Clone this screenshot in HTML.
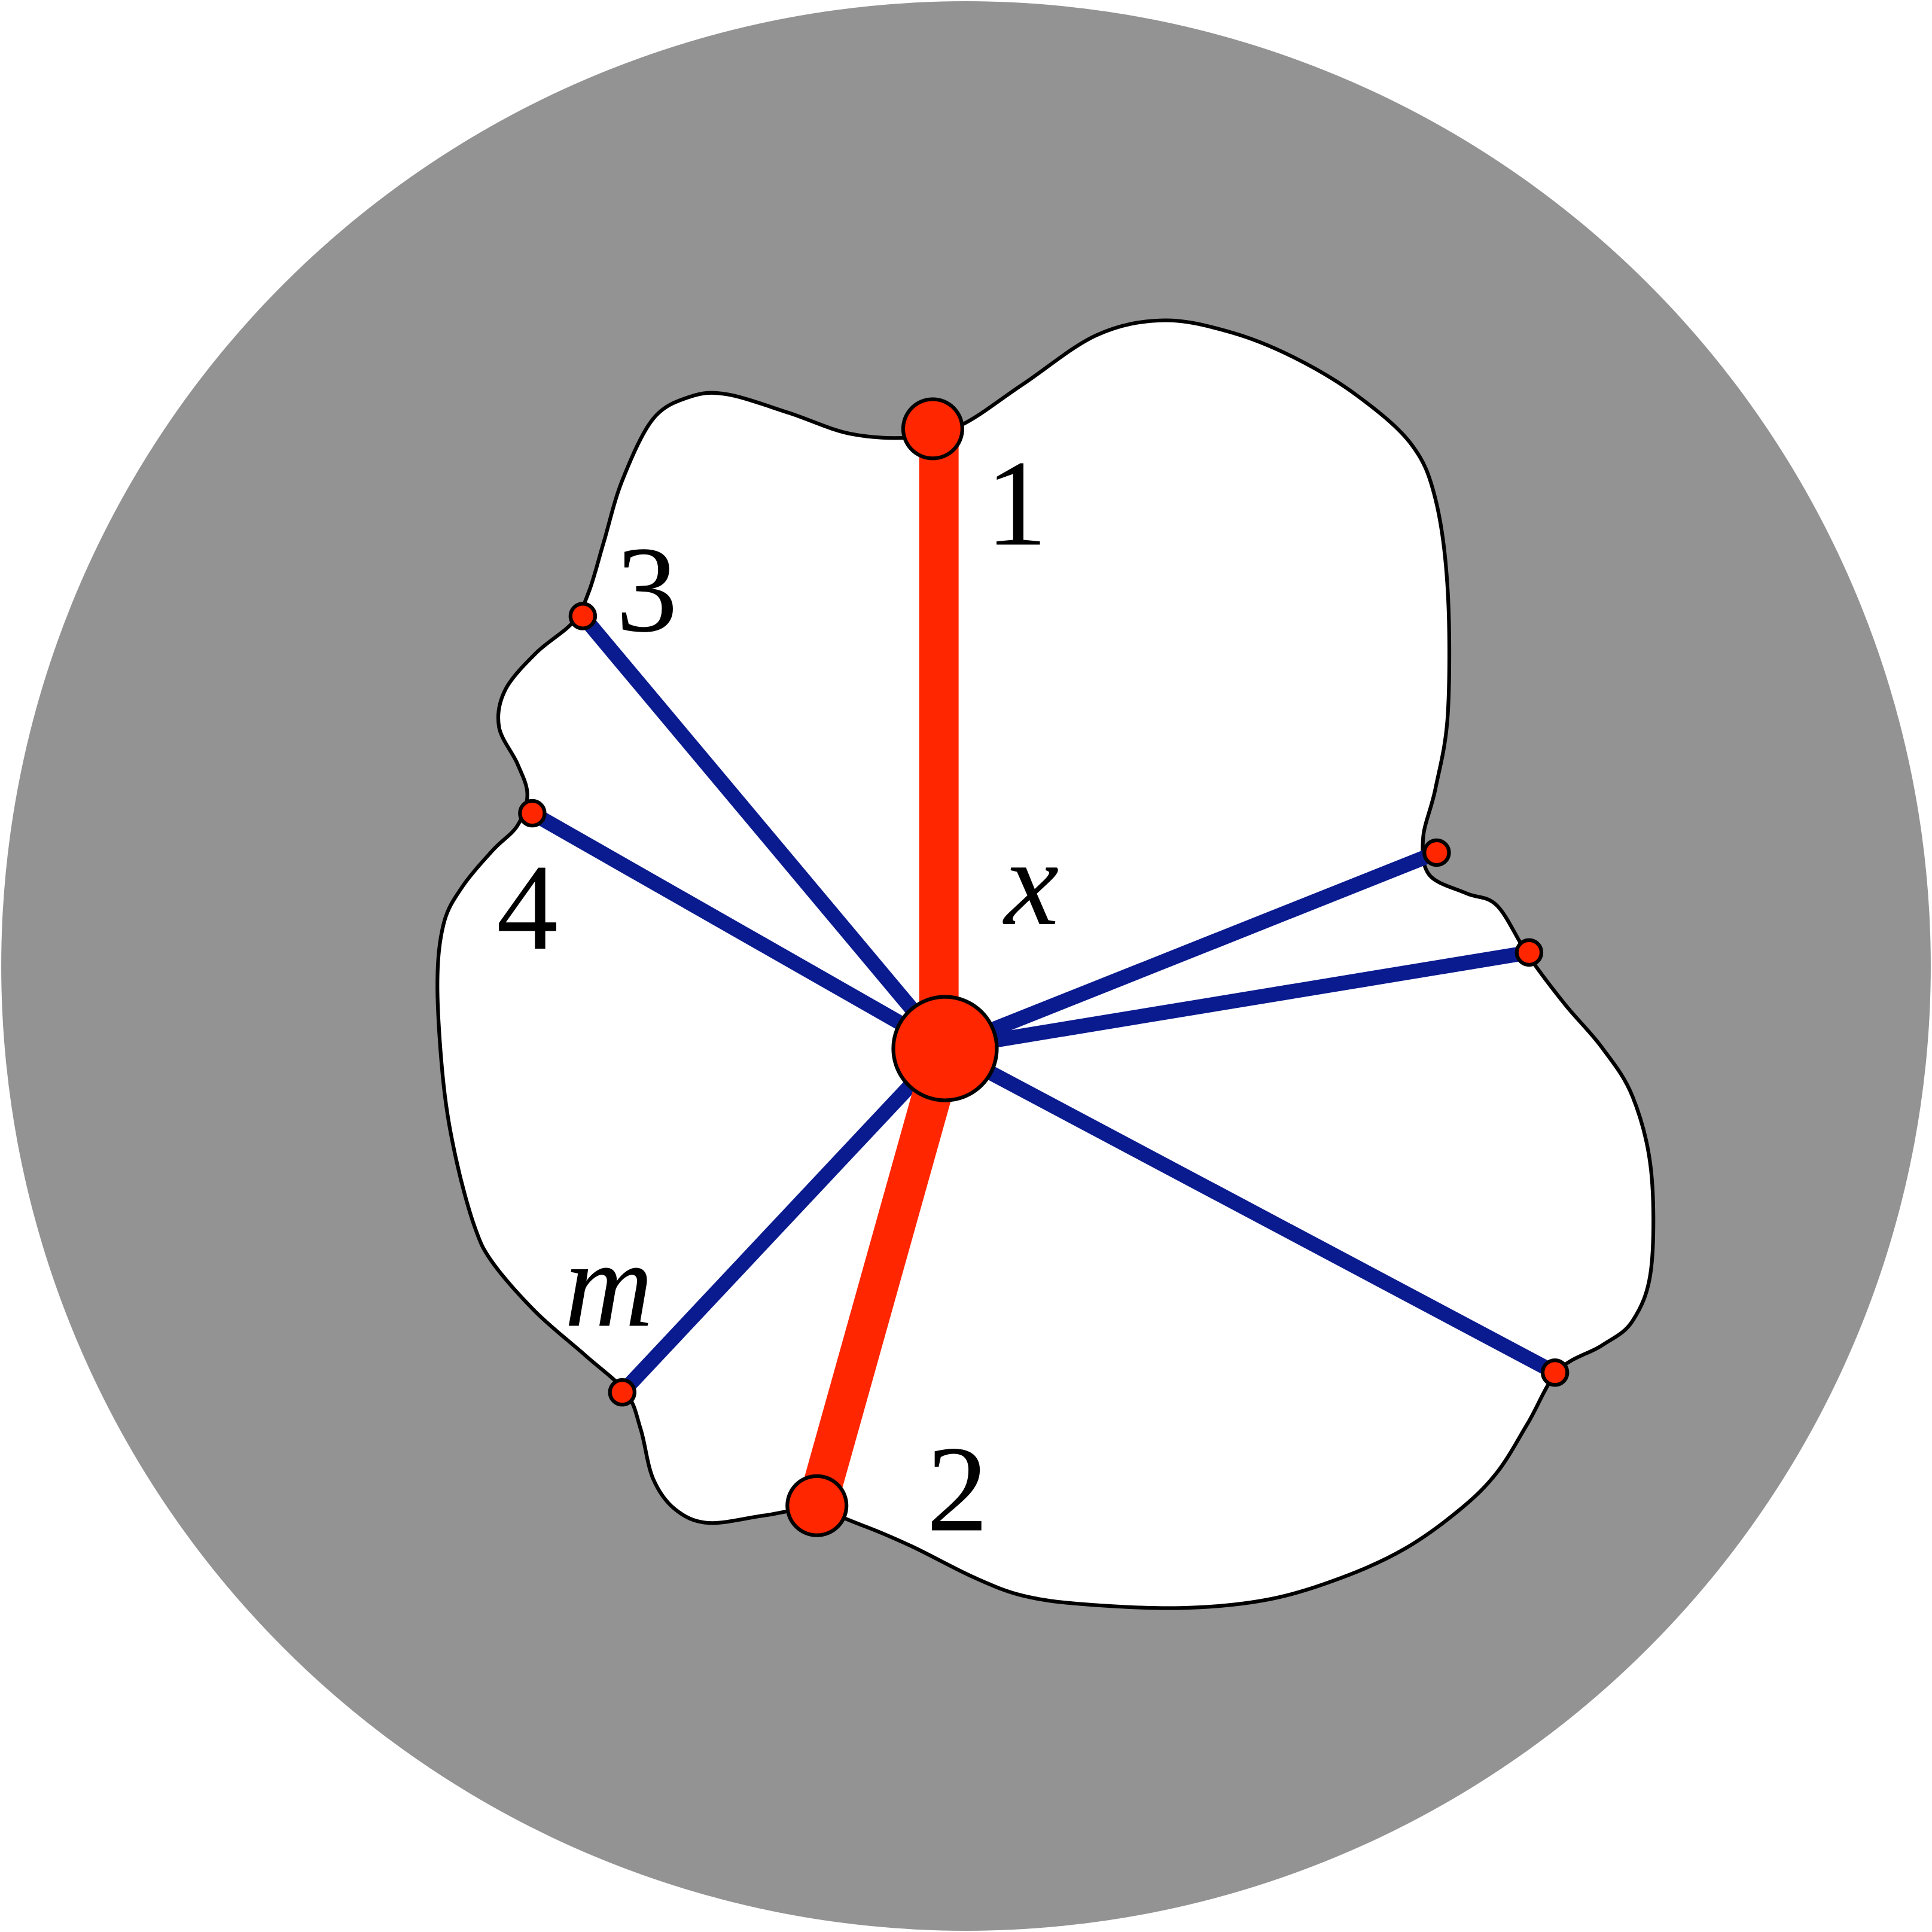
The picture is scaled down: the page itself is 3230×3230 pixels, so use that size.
<!DOCTYPE html>
<html>
<head>
<meta charset="utf-8">
<style>
html,body{margin:0;padding:0;background:#fff;}
svg{display:block;}
text{font-family:"Liberation Serif","Times New Roman",serif;fill:#000;}
</style>
</head>
<body>
<svg id="fig" width="3230" height="3230" viewBox="0 0 1568 1568" xmlns="http://www.w3.org/2000/svg">
  <circle cx="784" cy="784" r="783" fill="#939393"/>
  <path id="blob" fill="#fff" stroke="#000" stroke-width="3"/>
  <g id="lines"></g>
  <g id="nodes"></g>
  <g id="labels"></g>
</svg>
<script>
const blobPts = [[740,355],[780,345],[830,312],[890,272],[945,260],[1000,270],[1050,290],[1100,320],[1145,360],[1165,405],[1175,480],[1175,580],[1165,640],[1155,680],[1160,710],[1190,725],[1215,735],[1240,775],[1270,815],[1300,850],[1325,890],[1340,950],[1340,1030],[1325,1072],[1300,1092],[1265,1112],[1240,1155],[1215,1195],[1185,1225],[1140,1257],[1090,1280],[1030,1298],[960,1305],[880,1302],[830,1295],[790,1280],[740,1255],[700,1238],[660,1225],[620,1230],[575,1236],[548,1225],[530,1200],[520,1160],[508,1130],[475,1100],[435,1065],[400,1025],[385,995],[370,940],[360,880],[355,800],[360,750],[375,720],[400,690],[420,670],[428,645],[420,620],[405,590],[410,560],[435,530],[465,505],[478,480],[490,440],[505,390],[530,340],[560,322],[590,320],[640,335],[690,352]];
const center = [767,851];
const redEnds = [[757,348],[663,1222]];
const redLineStarts = [[762,851],[767,851]];
const redLineEnds = [[762,360],[663,1222]];
const blueEnds = [[473,500],[432,660],[505,1130],[1166,692],[1241,773],[1262,1114]];
const labelText = ["1","3","4","x","m","2"];
const labelPos = [[800,442],[500,512],[403,770],[815,750],[458,1076],[752,1242]];
const labelItalic = [false,false,false,true,true,false];

const NS="http://www.w3.org/2000/svg";
(function(){
  const p=blobPts,n=p.length;let d=`M${p[0][0]},${p[0][1]}`;
  for(let i=0;i<n;i++){
    const p0=p[(i-1+n)%n],p1=p[i],p2=p[(i+1)%n],p3=p[(i+2)%n];
    const c1=[p1[0]+(p2[0]-p0[0])/6,p1[1]+(p2[1]-p0[1])/6];
    const c2=[p2[0]-(p3[0]-p1[0])/6,p2[1]-(p3[1]-p1[1])/6];
    d+=` C${c1[0]},${c1[1]} ${c2[0]},${c2[1]} ${p2[0]},${p2[1]}`;
  }
  document.getElementById('blob').setAttribute('d',d+'Z');
})();
const lines=document.getElementById('lines');
blueEnds.forEach(e=>{
  const l=document.createElementNS(NS,'line');
  
  
  l.setAttribute('x1',center[0]);l.setAttribute('y1',center[1]);
  l.setAttribute('x2',e[0]);l.setAttribute('y2',e[1]);
  l.setAttribute('stroke','#0a1a8f');l.setAttribute('stroke-width','12');
  lines.appendChild(l);
});
redLineEnds.forEach((e,i)=>{
  const l=document.createElementNS(NS,'line');
  
  
  l.setAttribute('x1',redLineStarts[i][0]);l.setAttribute('y1',redLineStarts[i][1]);
  l.setAttribute('x2',e[0]);l.setAttribute('y2',e[1]);
  l.setAttribute('stroke','#ff2600');l.setAttribute('stroke-width','32');
  lines.appendChild(l);
});
const nodes=document.getElementById('nodes');
function dot(p,r,name){
  const c=document.createElementNS(NS,'circle');
  
  
  c.setAttribute('cx',p[0]);c.setAttribute('cy',p[1]);c.setAttribute('r',r);
  c.setAttribute('fill','#ff2600');c.setAttribute('stroke','#000');c.setAttribute('stroke-width','3');
  nodes.appendChild(c);
}
blueEnds.forEach(p=>dot(p,10,'boundary-point'));
redEnds.forEach(p=>dot(p,24,'endpoint'));
dot(center,42,'center-point');
const labels=document.getElementById('labels');
labelText.forEach((t,i)=>{
  const tx=document.createElementNS(NS,'text');
  
  
  tx.setAttribute('x',labelPos[i][0]);tx.setAttribute('y',labelPos[i][1]);
  tx.setAttribute('font-size','100');
  tx.setAttribute('font-family','Liberation Serif, Times New Roman, serif');
  if(labelItalic[i])tx.setAttribute('font-style','italic');
  tx.textContent=t;
  labels.appendChild(tx);
});
</script>
</body>
</html>
